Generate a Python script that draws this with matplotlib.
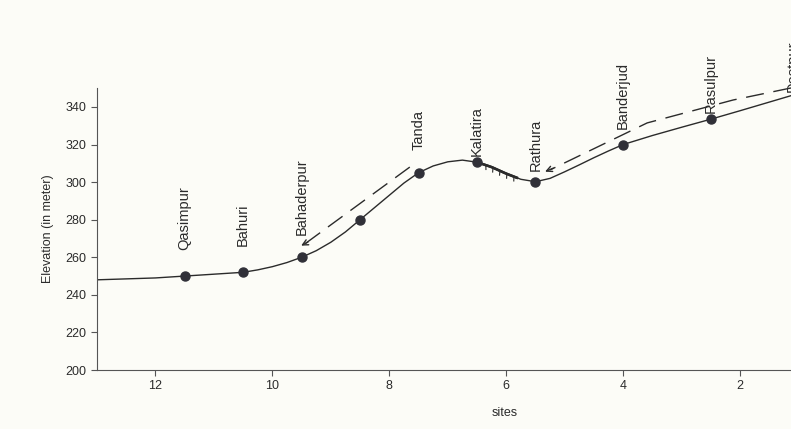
import matplotlib.pyplot as plt
import matplotlib.patheffects as pe
import numpy as np

plt.rcParams['font.family'] = ['Liberation Sans', 'DejaVu Sans']

# Sampling sites (site number, elevation in m)
site_names = ['Qasimpur', 'Bahuri', 'Bahaderpur', '', 'Tanda', 'Kalatira',
              'Rathura', 'Banderjud', 'Rasulpur']
site_x = [11.5, 10.5, 9.5, 8.5, 7.5, 6.5, 5.5, 4.0, 2.5]
site_elev = [250, 252, 260, 280, 305, 310.5, 300, 320, 333.5]
label_base = [264, 266, 272, 0, 317, 314, 306, 328, 337]

# Elevation profile
profile_x = [13.0, 12.5, 12.0, 11.5, 11.0, 10.5, 10.25, 10.0, 9.75, 9.5,
             9.25, 9.0, 8.75, 8.5, 8.25, 8.0, 7.75, 7.5, 7.25, 7.0, 6.75,
             6.5, 6.25, 6.0, 5.75, 5.5, 5.25, 5.0, 4.75, 4.5, 4.25, 4.0,
             3.5, 3.0, 2.5, 2.0, 1.13]
profile_y = [248, 248.5, 249, 250, 251, 252, 253.3, 255, 257.2, 260,
             263.5, 268, 273.5, 280, 286.5, 293, 299.5, 305, 308.6, 310.8,
             311.7, 310.6, 308, 304.5, 301.5, 300.2, 302, 305.5, 309.2, 313,
             316.6, 320, 324.8, 329.2, 333.5, 338, 346]

# Extra label cut off at the right edge
edge_name = 'Dostpur'
edge_x, edge_base = 1.1, 348

fig = plt.figure(figsize=(7.91, 4.29), dpi=100, facecolor='#fcfcf7')
ax = fig.add_axes([0.1226, 0.1375, 0.8774, 0.657])
ax.set_facecolor('#fcfcf7')

ink = '#2b2b2b'
ax.plot(profile_x, profile_y, color=ink, lw=1.0, zorder=2,
        solid_joinstyle='round')
ax.plot(site_x, site_elev, 'o', color='#303038', ms=6.5, zorder=3)

# fault-like hatching between Kalatira and Rathura
hx = np.linspace(6.4, 5.82, 12)
hy = np.interp(hx, profile_x[::-1], profile_y[::-1])
ax.plot(hx, hy, color=ink, lw=1.8, zorder=2,
        path_effects=[pe.Stroke(),
                      pe.withTickedStroke(angle=-70, spacing=4.5, length=0.7,
                                          linewidth=0.8)])

for name, x, yb in zip(site_names, site_x, label_base):
    if name:
        ax.text(x, yb, name, rotation=90, ha='center', va='bottom',
                fontsize=10.5, color=ink)
ax.text(edge_x, edge_base, edge_name, rotation=90, ha='center', va='bottom',
        fontsize=10.5, color=ink, clip_on=False)

# dashed flow arrows
dash = (0, (13, 7))
ax.plot([7.65, 9.45], [308.0, 267.0], color=ink, lw=1.0, ls=dash)
ax.annotate('', xy=(9.55, 265.5), xytext=(9.35, 268.8),
            arrowprops=dict(arrowstyle='->', color=ink, lw=1.0))
ax.plot([1.13, 2.12, 3.59, 5.25], [350.1, 343.7, 331.5, 306.5], color=ink,
        lw=1.0, ls=dash, clip_on=False)
ax.annotate('', xy=(5.38, 305.0), xytext=(5.15, 308.0),
            arrowprops=dict(arrowstyle='->', color=ink, lw=1.0))

ax.set_xlim(13, 1.13)
ax.set_ylim(200, 350)
ax.set_xticks([12, 10, 8, 6, 4, 2])
ax.set_yticks(range(200, 341, 20))
ax.spines['top'].set_visible(False)
ax.spines['right'].set_visible(False)
for s in ['left', 'bottom']:
    ax.spines[s].set_color('#555555')
ax.tick_params(colors='#555555', labelcolor=ink, labelsize=9, length=4)

ax.set_xlabel('sites', fontsize=9, color=ink)
ax.xaxis.set_label_coords(0.588, -0.13)
ax.set_ylabel('Elevation (in meter)', fontsize=9, color=ink, labelpad=8)

plt.savefig('out.png', dpi=100, facecolor=fig.get_facecolor())
plt.close()
